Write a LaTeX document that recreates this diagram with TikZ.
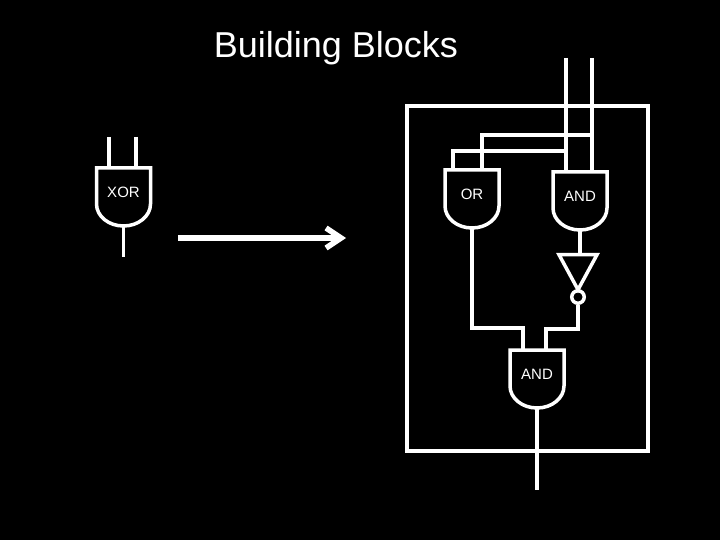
\documentclass[tikz,border=0pt]{standalone}
\usepackage{fontspec}
\setmainfont{Liberation Sans}
\usetikzlibrary{arrows.meta,positioning,shapes.geometric}
\tikzset{
	pics/gate/.style={code={
		\draw[gateline] (-27,0) -- (-27,36) arc[start angle=180,end angle=0,x radius=27,y radius=22] -- (27,0) -- cycle;
		\node[gatelabel] (-body) at (0,24) {#1};
		\coordinate (-top) at (0,0);
		\coordinate (-bot) at (0,58);
	}}
}
\begin{document}
\begin{tikzpicture}[
			x=1pt,y=-1pt,
			wire/.style={draw=white,line width=3.5pt},
			gateline/.style={draw=white,line width=3.5pt},
			gatelabel/.style={text=white,inner sep=0pt,font=\fontsize{15}{17}\selectfont},
			titletext/.style={text=white,inner sep=0pt,font=\fontsize{36}{40}\selectfont},
			frame/.style={draw=white,line width=4pt,minimum width=241pt,minimum height=344pt,inner sep=0pt},
			notgate/.style={draw=white,line width=3.5pt,isosceles triangle,shape border rotate=-90,isosceles triangle stretches,minimum width=38pt,minimum height=35pt,inner sep=0pt},
			bubble/.style={circle,draw=white,line width=3.5pt,minimum size=12.5pt,inner sep=0pt},
			bigarr/.style={-{Straight Barb[length=15pt,width=20pt,line width=5.5pt]},draw=white,line width=5.5pt}
			]
			\fill[black] (0,0) rectangle (720,540);
			\useasboundingbox (0,0) rectangle (720,540);
			\node[titletext] (title) at (336,48) {Building Blocks};
			% left side
			\pic (xorgate) at (123.5,168) {gate=XOR};
			\coordinate (xorina) at (109,137);
			\coordinate (xorinb) at (136,137);
			\coordinate (xorout) at (123.5,257);
			\draw[wire] (xorina) -- (xorina |- xorgate-top);
			\draw[wire] (xorinb) -- (xorinb |- xorgate-top);
			\draw[wire] (xorgate-bot) -- (xorout);
			\coordinate (arrstart) at (178,238);
			\coordinate (arrend) at (346,238);
			\draw[bigarr] (arrstart) -- (arrend);
			% right side
			\node[frame] (box) at (527.5,278.5) {};
			\pic (orgate) at (472,170) {gate=OR};
			\pic (andtop) at (580,172) {gate=AND};
			\pic (andlow) at (537,350) {gate=AND};
			\node[notgate] (inv) at (578,266) {};
			\node[bubble] (bub) at (578,297) {};
			\coordinate (ina) at (566,58);
			\coordinate (inb) at (592,58);
			\coordinate (ora) at (453,151);
			\coordinate (orb) at (482,135);
			\coordinate (andina) at (523,328);
			\coordinate (andinb) at (546,329);
			\coordinate (outlow) at (537,490);
			\draw[wire] (ina) -- (ina |- andtop-top);
			\draw[wire] (inb) -- (inb |- andtop-top);
			\draw[wire] (ina |- ora) -- (ora) -- (ora |- orgate-top);
			\draw[wire] (inb |- orb) -- (orb) -- (orb |- orgate-top);
			\draw[wire] (andtop-bot) -- (andtop-bot |- inv.north);
			\draw[wire] (bub.south) |- (andinb) -- (andinb |- andlow-top);
			\draw[wire] (orgate-bot) |- (andina) -- (andina |- andlow-top);
			\draw[wire] (andlow-bot) -- (outlow);
		\end{tikzpicture}
\end{document}
